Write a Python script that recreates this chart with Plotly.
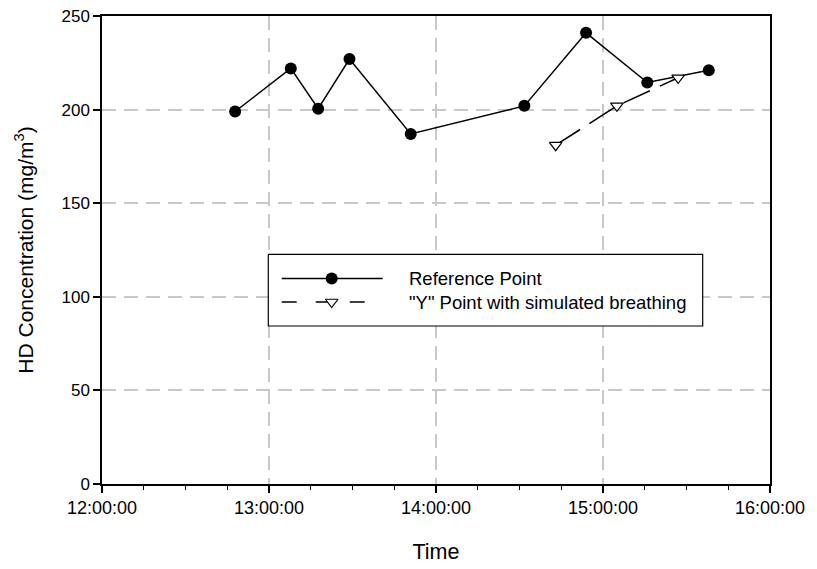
import plotly.graph_objects as go

# ---- data ----
day = "2000-01-01 "
ref_times = ["12:47:50", "13:07:50", "13:17:40", "13:28:55", "13:50:55",
             "14:31:45", "14:53:55", "15:15:55", "15:38:00"]
ref_vals = [199, 222, 200.5, 227, 187, 202, 241, 214.5, 221]
y_times = ["14:43:00", "15:05:00", "15:27:00"]
y_vals = [181, 202, 217]
x_tick_labels = ["12:00:00", "13:00:00", "14:00:00", "15:00:00", "16:00:00"]
y_ticks = [0, 50, 100, 150, 200, 250]

FONT = "Liberation Sans, Arial, sans-serif"
OFF = 8  # browser body margin
W, H = 817 - OFF, 569 - OFF
L, R, T, B = 102, 770, 15.7, 483.7  # target plot-area frame in page pixels

fig = go.Figure()

fig.add_trace(go.Scatter(
    x=[day + t for t in ref_times], y=ref_vals, mode="lines+markers",
    line=dict(color="black", width=1.5),
    marker=dict(symbol="circle", size=12, color="black"),
    name="Reference Point", showlegend=False))

fig.add_trace(go.Scatter(
    x=[day + t for t in y_times], y=y_vals, mode="lines+markers",
    line=dict(color="black", width=1.5, dash="29px,11px"),
    marker=dict(symbol="triangle-down", size=11, color="white",
                line=dict(color="black", width=1.2)),
    name='"Y" Point with simulated breathing', showlegend=False))

# ---- manual legend on an overlay axis measured in page pixels ----
bx0, bx1, by0, by1 = 268.3, 702.7, 254, 325.7
fig.add_trace(go.Scatter(
    x=[bx0, bx1, bx1, bx0, bx0], y=[by0, by0, by1, by1, by0],
    xaxis="x2", yaxis="y2", mode="lines", fill="toself",
    fillcolor="white", line=dict(color="black", width=1.2),
    showlegend=False, hoverinfo="skip"))
ly1, ly2 = 278.3, 301.7
fig.add_trace(go.Scatter(
    x=[281.7, 382.7], y=[ly1, ly1], xaxis="x2", yaxis="y2", mode="lines",
    line=dict(color="black", width=1.5), showlegend=False, hoverinfo="skip"))
fig.add_trace(go.Scatter(
    x=[331.7], y=[ly1], xaxis="x2", yaxis="y2", mode="markers",
    marker=dict(symbol="circle", size=12, color="black"),
    showlegend=False, hoverinfo="skip"))
fig.add_trace(go.Scatter(
    x=[281.7, 370], y=[ly2, ly2], xaxis="x2", yaxis="y2", mode="lines",
    line=dict(color="black", width=1.5, dash="15px,19px"),
    showlegend=False, hoverinfo="skip"))
fig.add_trace(go.Scatter(
    x=[331.7], y=[ly2], xaxis="x2", yaxis="y2", mode="markers",
    marker=dict(symbol="triangle-down", size=11, color="white",
                line=dict(color="black", width=1.2)),
    showlegend=False, hoverinfo="skip"))
for txt, yy in [("Reference Point", ly1), ('"Y" Point with simulated breathing', ly2)]:
    fig.add_annotation(x=407, y=yy, xref="x2", yref="y2", text=txt,
                       showarrow=False, xanchor="left", yanchor="middle",
                       font=dict(family=FONT, size=18.5, color="black"))

fig.update_layout(
    width=W, height=H,
    margin=dict(l=L - OFF, r=W - (R - OFF), t=T - OFF, b=H - (B - OFF),
                autoexpand=False),
    paper_bgcolor="white", plot_bgcolor="white",
    font=dict(family=FONT, color="black", size=18),
    showlegend=False,
    xaxis=dict(
        type="date", automargin=False,
        range=[day + "12:00:00", day + "16:00:00"],
        tickvals=[day + t for t in x_tick_labels], ticktext=x_tick_labels,
        showgrid=True, gridcolor="#c8c8c8", gridwidth=1.5, griddash="14px,8px",
        showline=True, linecolor="black", linewidth=1.5, mirror=True,
        ticks="outside", ticklen=7, tickwidth=1.5, tickcolor="black",
        minor=dict(dtick=15 * 60 * 1000, ticks="outside", ticklen=4,
                   tickwidth=1.2, tickcolor="black", showgrid=False),
        tickfont=dict(size=18), ticklabeloverflow="allow",
        title=dict(text="Time", font=dict(size=21.5), standoff=27),
        zeroline=False,
    ),
    yaxis=dict(
        range=[0, 250], tickvals=y_ticks, automargin=False,
        showgrid=True, gridcolor="#c8c8c8", gridwidth=1.5, griddash="14px,8px",
        showline=True, linecolor="black", linewidth=1.5, mirror=True,
        ticks="outside", ticklen=7, tickwidth=1.5, tickcolor="black",
        tickfont=dict(size=17), ticklabeloverflow="allow",
        title=dict(text="HD Concentration (mg/m<sup>3</sup>)", font=dict(size=21), standoff=22),
        zeroline=False,
    ),
    xaxis2=dict(overlaying="x", anchor="y2", range=[L, R], visible=False,
                showgrid=False, zeroline=False, fixedrange=True),
    yaxis2=dict(overlaying="y", anchor="x2", range=[B, T], visible=False,
                showgrid=False, zeroline=False, fixedrange=True),
)

fig.write_html("out.html")
